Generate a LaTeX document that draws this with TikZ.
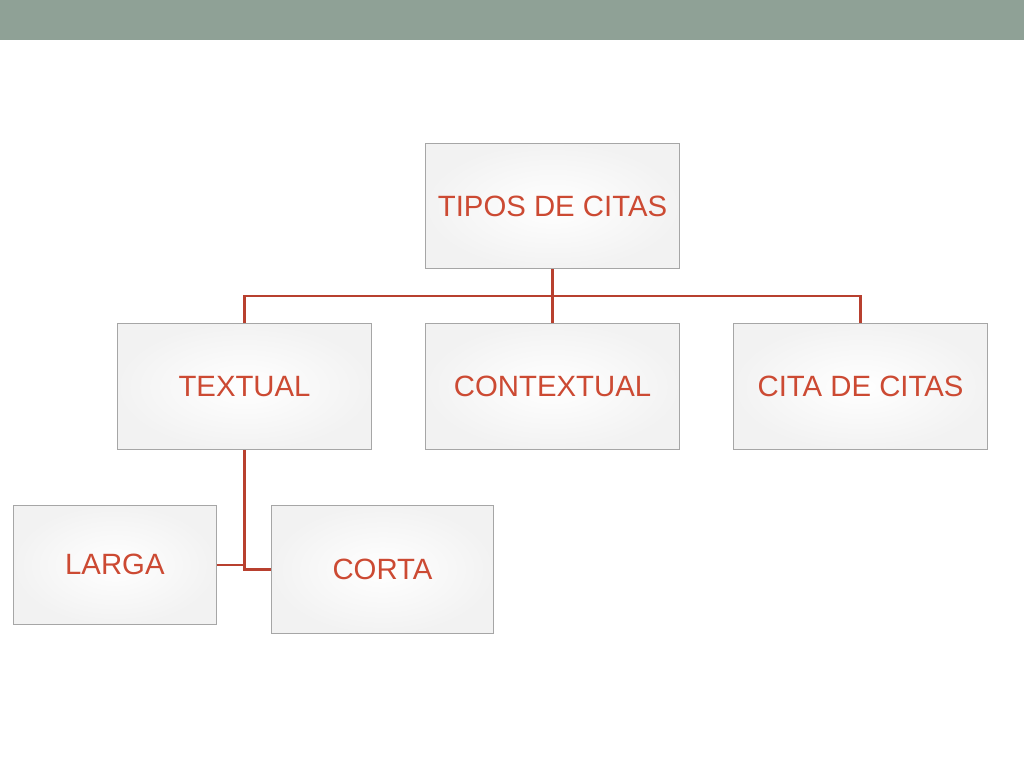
\documentclass[tikz,border=0pt]{standalone}
\usepackage{fontspec}
\setmainfont{Liberation Sans}
\begin{document}
\begin{tikzpicture}[x=0.75pt,y=-0.75pt,
  box/.style={draw=gray!70,line width=0.8pt,inner color=white,outer color=gray!10,
    text=txtred,font=\fontsize{22}{26}\selectfont,minimum width=#1,anchor=north west},
  link/.style={draw=linkred,line width=1.8pt}]
\definecolor{txtred}{HTML}{CC4A33}
\definecolor{linkred}{HTML}{B8402F}
\definecolor{bar}{HTML}{8FA196}
\useasboundingbox (0,0) rectangle (1024,768);
\fill[bar] (0,0) rectangle (1024,40);
\node[box=190.5pt,minimum height=94pt] (tipos) at (425,143) {TIPOS DE CITAS};
\node[box=190.5pt,minimum height=94.5pt] (textual) at (117,323) {TEXTUAL};
\node[box=190.5pt,minimum height=94.5pt] (context) at (425,323) {CONTEXTUAL};
\node[box=190.5pt,minimum height=94.5pt] (cita) at (733,323) {CITA DE CITAS};
\node[box=152pt,minimum height=89pt] (larga) at (13,505) {LARGA};
\node[box=166.5pt,minimum height=96pt] (corta) at (271,505) {CORTA};
\coordinate (bus) at (tipos.south |- 0,296);
\coordinate (j) at (textual.south |- 0,566);
\draw[link] (tipos.south) -- (bus);
\draw[link] (textual.north) |- (bus) -| (cita.north);
\draw[link] (bus) -- (context.north);
\draw[link] (textual.south) -- (j);
\draw[link] (larga.east) -- (larga.east -| j);
\draw[link] (j) |- (corta.west);
\end{tikzpicture}
\end{document}
